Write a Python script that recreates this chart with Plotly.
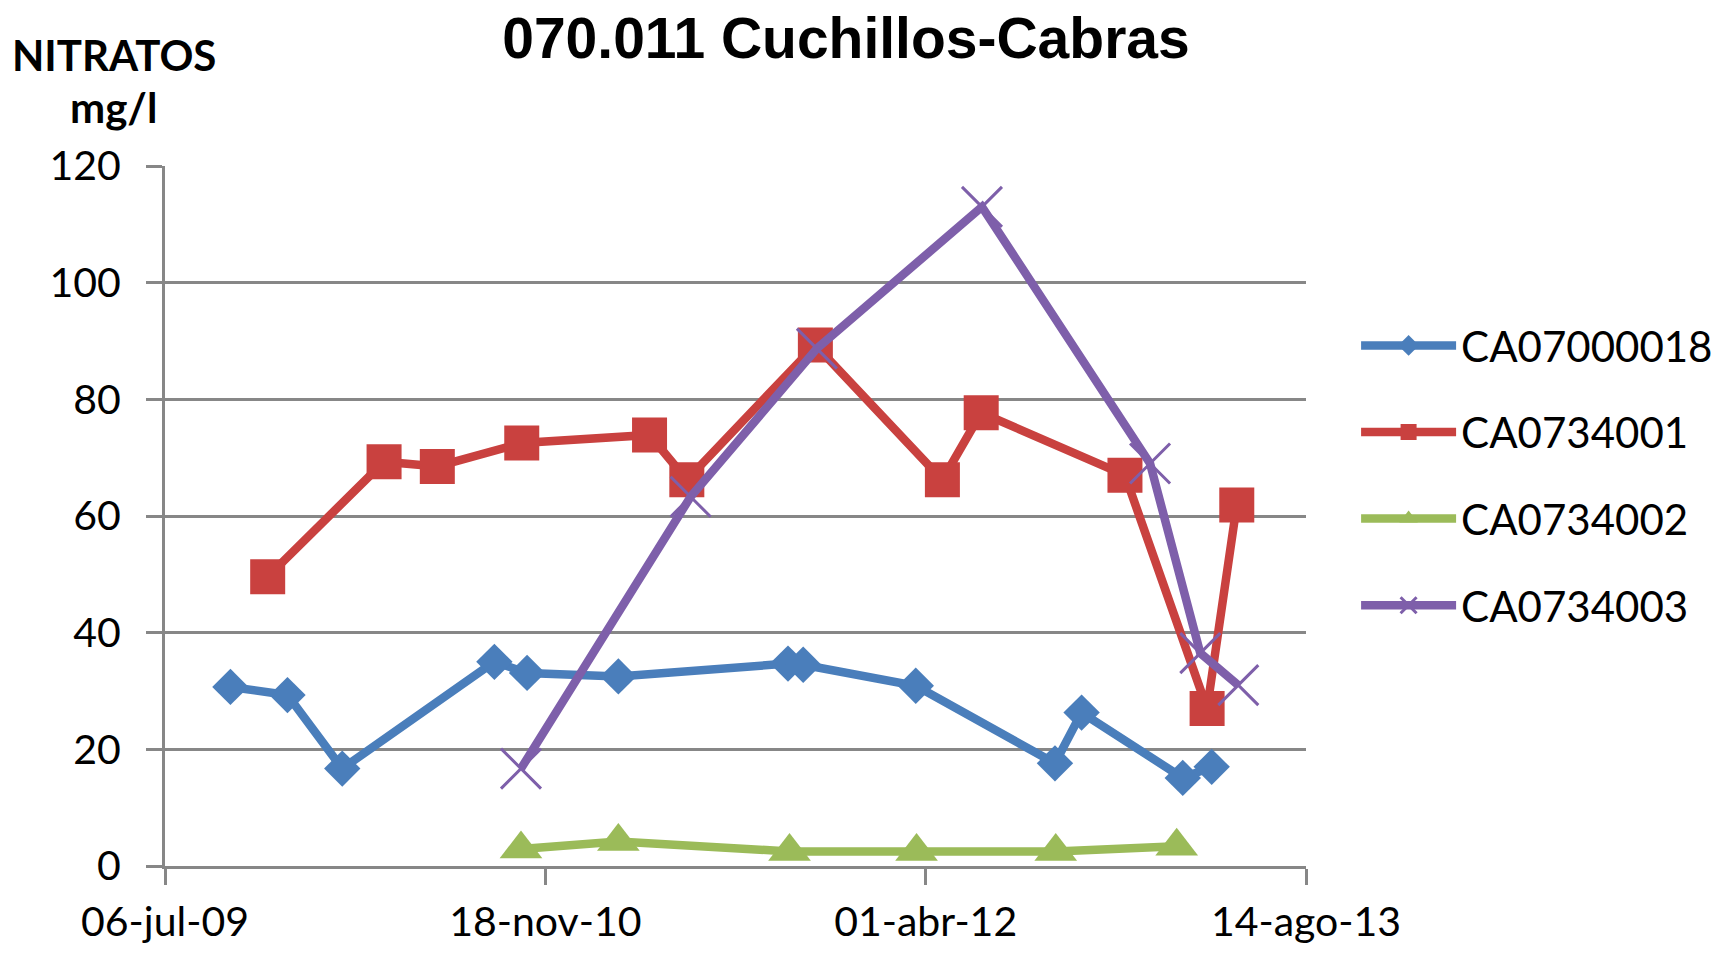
import plotly.graph_objects as go

# ---- data ----
blue_name = "CA07000018"
blue_dates = ["2009-09-30", "2009-12-14", "2010-02-24", "2010-09-12", "2010-10-25",
              "2011-02-22", "2011-10-03", "2011-10-23", "2012-03-19", "2012-09-18",
              "2012-10-23", "2013-03-05", "2013-04-12"]
blue_vals = [30.7, 29.3, 16.7, 35.0, 33.1, 32.5, 34.7, 34.5, 30.9, 17.6, 26.3, 15.1, 17.0]

red_name = "CA0734001"
red_dates = ["2009-11-18", "2010-04-20", "2010-06-29", "2010-10-18", "2011-04-04",
             "2011-05-23", "2011-11-08", "2012-04-23", "2012-06-13", "2012-12-19",
             "2013-04-06", "2013-05-15"]
red_vals = [49.6, 69.3, 68.5, 72.5, 73.9, 66.2, 89.3, 66.2, 77.7, 67.0, 27.0, 61.9]

green_name = "CA0734002"
green_dates = ["2010-10-17", "2011-02-22", "2011-10-05", "2012-03-20", "2012-09-19", "2013-02-25"]
green_vals = [2.9, 4.2, 2.5, 2.5, 2.5, 3.4]

purple_name = "CA0734003"
purple_dates = ["2010-10-17", "2011-05-28", "2011-11-10", "2012-06-14", "2013-01-21",
                "2013-03-28", "2013-05-17"]
purple_vals = [16.7, 63.3, 88.7, 113.0, 69.0, 36.5, 31.0]

x_tick_vals = ["2009-07-06", "2010-11-18", "2012-04-01", "2013-08-14"]
x_tick_text = ["06-jul-09", "18-nov-10", "01-abr-12", "14-ago-13"]
y_tick_vals = [0, 20, 40, 60, 80, 100, 120]

title_text = "070.011 Cuchillos-Cabras"
y_label_1 = "NITRATOS"
y_label_2 = "mg/l"

# ---- style ----
C_BLUE = "#4A7EBB"
C_RED = "#C9413F"
C_GREEN = "#9BBB59"
C_PURPLE = "#7E5FAA"
GRAY = "#878787"
FONT = "Lato, 'Open Sans', sans-serif"
LW = 8.5

fig = go.Figure()
fig.add_trace(go.Scatter(x=blue_dates, y=blue_vals, name=blue_name, mode="lines+markers",
                         legendgroup="a",
                         line=dict(color=C_BLUE, width=LW),
                         marker=dict(symbol="diamond", size=28, color=C_BLUE)))
fig.add_trace(go.Scatter(x=red_dates, y=red_vals, name=red_name, mode="lines+markers",
                         legendgroup="b",
                         line=dict(color=C_RED, width=LW),
                         marker=dict(symbol="square", size=35, color=C_RED)))
fig.add_trace(go.Scatter(x=green_dates, y=green_vals, name=green_name, mode="lines+markers",
                         legendgroup="c",
                         line=dict(color=C_GREEN, width=LW),
                         marker=dict(symbol="triangle-up", size=37, color=C_GREEN)))
fig.add_trace(go.Scatter(x=purple_dates, y=purple_vals, name=purple_name, mode="lines+markers",
                         legendgroup="d",
                         line=dict(color=C_PURPLE, width=LW),
                         marker=dict(symbol="x-thin-open", size=40, color=C_PURPLE,
                                     line=dict(color=C_PURPLE, width=3))))

# page body has an 8px margin, so the figure is sized to fit the window exactly
fig.update_layout(
    width=1707, height=937,
    margin=dict(l=157, r=409, t=158, b=79, autoexpand=False),
    paper_bgcolor="white", plot_bgcolor="white",
    title=dict(text="<b>" + title_text + "</b>", x=0.4909, xanchor="center",
               y=0.9676, yanchor="middle",
               font=dict(family="'Liberation Sans', Arial, sans-serif", size=57, color="black")),
    font=dict(family=FONT, color="black"),
    showlegend=True,
    legend=dict(x=1.0439, xanchor="left", y=0.792, yanchor="top",
                itemwidth=95,
                font=dict(family=FONT, size=42, color="black"),
                tracegroupgap=29, bgcolor="rgba(0,0,0,0)"),
    xaxis=dict(type="date", range=["2009-07-06", "2013-08-14"], automargin=False,
               tickmode="array", tickvals=x_tick_vals, ticktext=x_tick_text,
               showgrid=False, zeroline=False,
               showline=True, linecolor=GRAY, linewidth=3,
               ticks="outside", ticklen=16, tickwidth=3, tickcolor=GRAY,
               tickfont=dict(family=FONT, size=41, color="black"),
               ticklabelstandoff=2),
    yaxis=dict(range=[0, 120], tickmode="array", tickvals=y_tick_vals, automargin=False,
               showgrid=True, gridcolor=GRAY, gridwidth=3, zeroline=False,
               showline=True, linecolor=GRAY, linewidth=3,
               ticks="outside", ticklen=16, tickwidth=3, tickcolor=GRAY,
               tickfont=dict(family=FONT, size=41, color="black"),
               ticklabelstandoff=17),
    annotations=[
        dict(text="<b>" + y_label_1 + "</b>", xref="paper", yref="paper",
             x=-0.0451, y=1.158, xanchor="center", yanchor="middle", showarrow=False,
             font=dict(family=FONT, size=42, color="black")),
        dict(text="<b>" + y_label_2 + "</b>", xref="paper", yref="paper",
             x=-0.0451, y=1.085, xanchor="center", yanchor="middle", showarrow=False,
             font=dict(family=FONT, size=42, color="black")),
    ],
)

fig.write_html("out.html")
